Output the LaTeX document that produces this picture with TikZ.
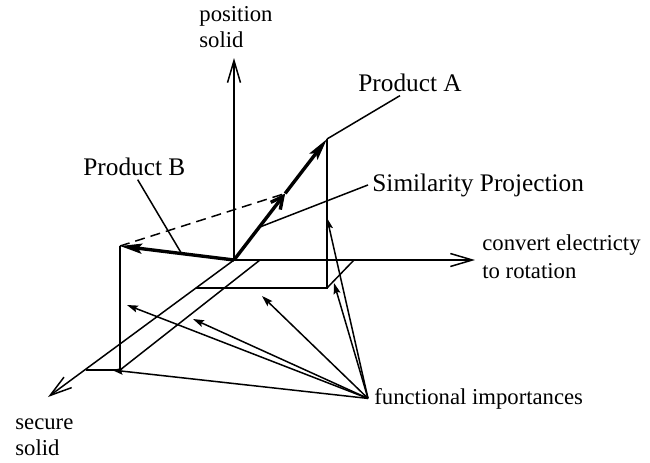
\documentclass[tikz,border=0pt]{standalone}
\usepackage{fontspec}
\setmainfont{Liberation Serif}
\usetikzlibrary{calc,arrows.meta}
\begin{document}
\begin{tikzpicture}[x=0.5pt, y=-0.5pt,
  lbl/.style={inner sep=3pt, align=left, font=\fontsize{11.35}{13}\selectfont},
  prodlbl/.style={inner sep=2pt, font=\fontsize{12.65}{15}\selectfont},
  axis/.style={line width=0.75pt, -{Straight Barb[length=11pt,width=6.5pt]}},
  edge/.style={line width=0.75pt},
  vec/.style={line width=1.7pt, -{Stealth[length=11pt,width=5pt,inset=2pt]}},
  imp/.style={line width=0.75pt, -{Stealth[length=5.5pt,width=3.5pt,inset=1pt]}}]
\useasboundingbox (0,0) rectangle (650,462);
%% axes
\coordinate (O) at (234,260);
\coordinate (Z) at (234,58);
\coordinate (X) at (475,260);
\coordinate (Y) at (48,397);
\draw[axis] (O) -- (Z);
\draw[axis] (O) -- (X);
\draw[axis] (O) -- (Y);
\node[lbl, anchor=north west] (pos) at (193,0.5) {position\\solid};
\node[lbl, anchor=north west] (cer) at (476,228.5) {convert electricty\\[1pt]to rotation};
\node[lbl, anchor=north west] (sec) at (9,412) {secure\\solid};
%% product A and its floor
\coordinate (A) at (327,139);
\coordinate (Af) at (327,288);
\coordinate (Ax) at (354,260);
\coordinate (Ay) at (196,288);
\coordinate (P) at ($(O)!0.55!(A)$);
\draw[edge] (A) -- (Af) -- (Ay);
\draw[edge] (Af) -- (Ax);
%% product B and its floor
\coordinate (B) at (120,246);
\coordinate (Bf) at (120,370);
\coordinate (Bx) at (260,260);
\coordinate (By) at (86,370);
\draw[edge] (B) -- (Bf) -- (By);
\draw[edge] (Bf) -- (Bx);
\draw[edge, dashed, dash pattern=on 5pt off 3pt] (B) -- (P);
%% vectors
\draw[vec, -{Straight Barb[length=6pt,width=6pt]}] (O) -- (P);
\draw[vec] (P) -- (A);
\draw[vec] (O) -- (B);
%% labels
\node[prodlbl, anchor=base west] (pa) at (354,91) {Product A};
\node[prodlbl, anchor=base west] (pb) at (79,175) {Product B};
\node[prodlbl, anchor=base west] (sp) at (368,191) {Similarity Projection};
\draw[edge] ($(pa.south west)!0.41!(pa.south east)$) -- (A);
\draw[edge] ($(pb.south west)!0.53!(pb.south east)$) -- ($(O)!0.46!(B)$);
\draw[edge] ($(O)!0.27!(A)$) -- (sp.west);
%% functional importances
\node[lbl, anchor=base west] (fi) at (368,404) {functional importances};
\coordinate (w1) at (327,218);
\coordinate (w2) at (334,283);
\coordinate (w3) at (262,296);
\coordinate (w4) at (193,319);
\coordinate (w5) at (127,305);
\coordinate (w6) at (112,370);
\foreach \w in {w1,w2,w3,w4,w5,w6} \draw[imp] (fi.west) -- (\w);
\end{tikzpicture}
\end{document}
